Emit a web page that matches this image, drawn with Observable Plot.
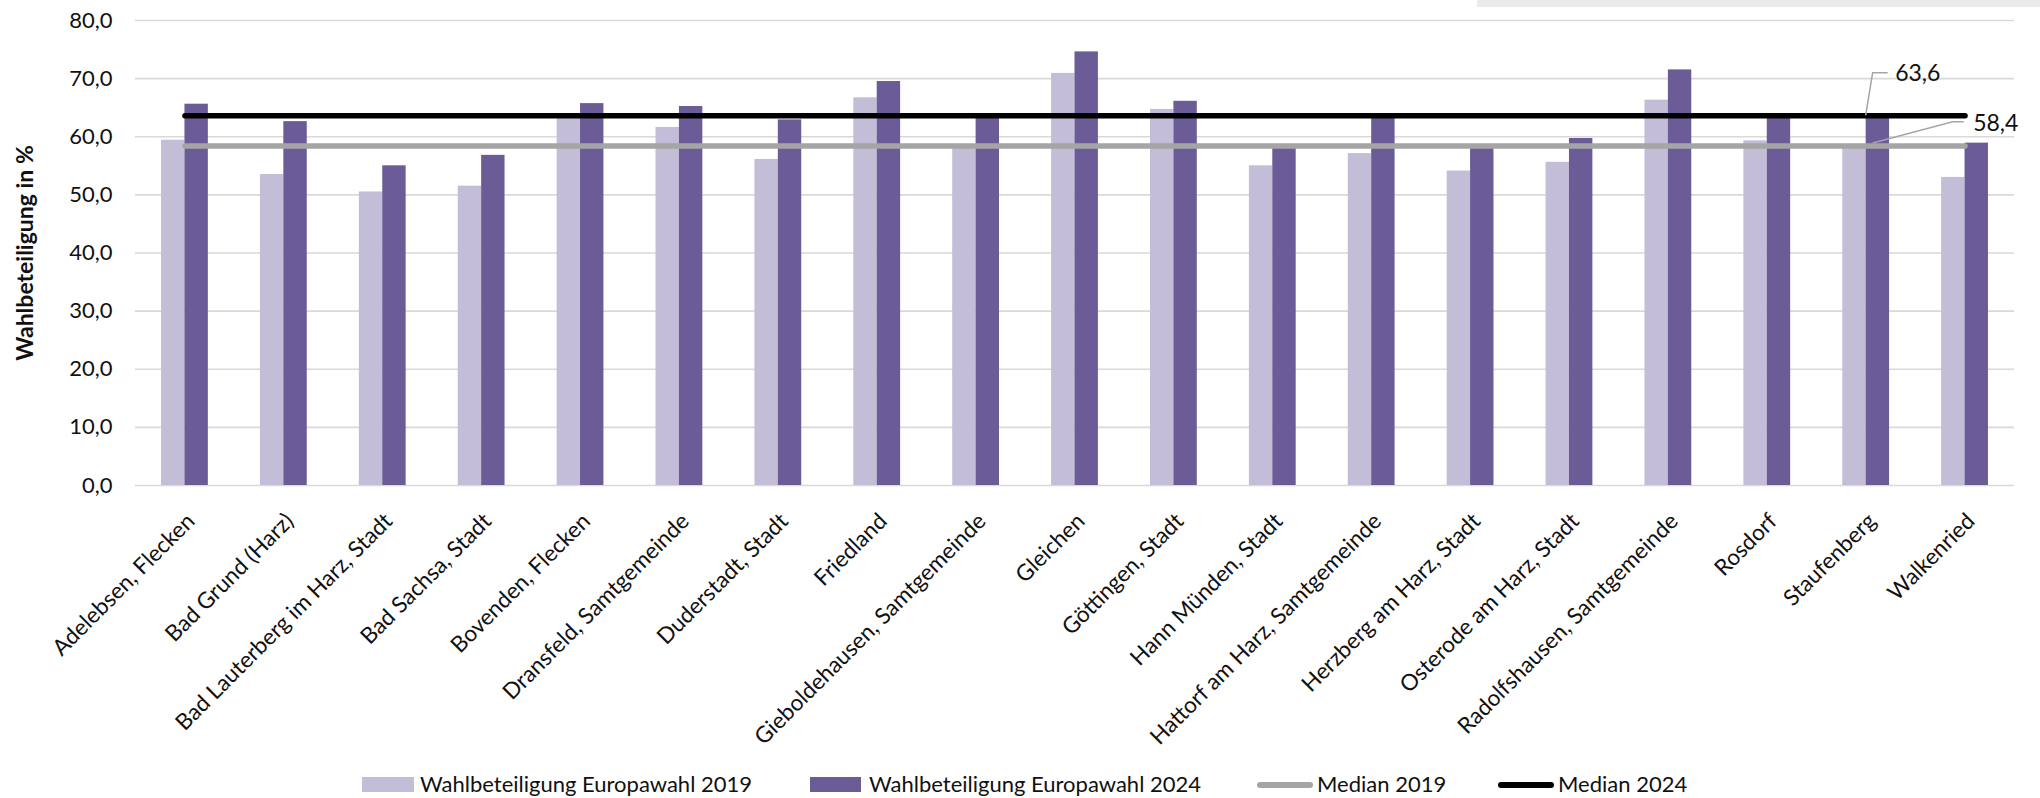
<!DOCTYPE html>
<html>
<head>
<meta charset="utf-8">
<script src="https://cdn.jsdelivr.net/npm/d3@7"></script>
<script src="https://cdn.jsdelivr.net/npm/@observablehq/plot@0.6"></script>
<style>
  html, body { margin: 0; padding: 0; background: #fff; }
  #wrap { position: relative; width: 2040px; height: 798px; overflow: hidden; font-family: Lato, "Noto Sans", sans-serif; color: #111; }
  #chart { position: absolute; left: 0; top: 0; }
  #topbox { position: absolute; left: 1477px; top: 0; width: 563px; height: 7px; background: #ebebeb; }
  .lg { position: absolute; }
  .lgt { position: absolute; top: 770px; line-height: 28px; font-size: 22px; white-space: nowrap; }
</style>
</head>
<body>
<div id="wrap">
  <div id="chart"></div>
  <div id="topbox"></div>
  <div id="legend"></div>
</div>
<script>
// ---- data ----
const categories = [
  "Adelebsen, Flecken", "Bad Grund (Harz)", "Bad Lauterberg im Harz, Stadt", "Bad Sachsa, Stadt",
  "Bovenden, Flecken", "Dransfeld, Samtgemeinde", "Duderstadt, Stadt", "Friedland",
  "Gieboldehausen, Samtgemeinde", "Gleichen", "Göttingen, Stadt", "Hann Münden, Stadt",
  "Hattorf am Harz, Samtgemeinde", "Herzberg am Harz, Stadt", "Osterode am Harz, Stadt",
  "Radolfshausen, Samtgemeinde", "Rosdorf", "Staufenberg", "Walkenried"
];
const turnout2019 = [59.4, 53.5, 50.5, 51.5, 63.7, 61.6, 56.1, 66.7, 58.6, 70.9, 64.7, 55.0, 57.1, 54.1, 55.6, 66.3, 59.3, 58.7, 53.0];
const turnout2024 = [65.6, 62.6, 55.0, 56.8, 65.7, 65.2, 62.9, 69.5, 63.5, 74.6, 66.1, 58.6, 63.8, 58.5, 59.7, 71.5, 63.9, 63.6, 58.9];
const median2019 = 58.4;
const median2024 = 63.6;
const medianLabelCategory = "Staufenberg";
const yTicks = [0, 10, 20, 30, 40, 50, 60, 70, 80];
const yTitle = "Wahlbeteiligung in %";
const seriesNames = ["Wahlbeteiligung Europawahl 2019", "Wahlbeteiligung Europawahl 2024", "Median 2019", "Median 2024"];

// ---- styling ----
const colors = { light: "#c3bdd8", dark: "#6b5c97", med19: "#a5a5a5", med24: "#000000" };
const W = 2040, H = 770;
const mL = 135, mR = 26, mT = 20, mB = H - 485;
const step = (W - mL - mR) / categories.length;
const barW = 23.4;
const fmt = d => d.toFixed(1).replace(".", ",");

const rows2019 = categories.map((c, i) => ({ cat: c, value: turnout2019[i] }));
const rows2024 = categories.map((c, i) => ({ cat: c, value: turnout2024[i] }));
const medRows19 = categories.map(c => ({ cat: c, value: median2019 }));
const medRows24 = categories.map(c => ({ cat: c, value: median2024 }));
const medLabel24 = [{ cat: medianLabelCategory, value: median2024, text: fmt(median2024) }];
const medLabel19 = [{ cat: medianLabelCategory, value: median2019, text: fmt(median2019) }];

// leader lines drawn through the plot's own scales
function leaders(index, scales) {
  const g = d3.create("svg:g").attr("fill", "none").attr("stroke", "#a5a5a5").attr("stroke-width", 1.5);
  const bw = scales.x.bandwidth ? scales.x.bandwidth() : 0;
  const cx = scales.x(medianLabelCategory) + bw / 2;
  const y24 = scales.y(median2024), y19 = scales.y(median2019);
  g.append("path").attr("d", `M${cx},${y24}L${cx + 7},${y24 - 42.6}L${cx + 22},${y24 - 42.6}`);
  g.append("path").attr("d", `M${cx + 7},${y19 - 2.5}L${cx + 87},${y19 - 23.8}L${cx + 98},${y19 - 23.8}`);
  return g.node();
}

const chart = Plot.plot({
  width: W,
  height: H,
  marginLeft: mL,
  marginRight: mR,
  marginTop: mT,
  marginBottom: mB,
  style: { fontFamily: "Lato, 'Noto Sans', sans-serif", fontSize: "22px", color: "#111", background: "#fff", overflow: "visible" },
  x: { type: "band", domain: categories, padding: 0, round: false },
  y: { domain: [0, 80] },
  marks: [
    Plot.gridY(yTicks, { stroke: "#d9d9d9", strokeOpacity: 1, strokeWidth: 1.6 }),
    Plot.axisY(yTicks, { tickSize: 0, tickPadding: 23, tickFormat: fmt, fontSize: 22, label: null }),
    Plot.axisX({ tickSize: 0, tickRotate: -45, tickPadding: 32, dx: 6, fontSize: 22.5, label: null }),
    Plot.text([yTitle], { text: d => d, frameAnchor: "left", textAnchor: "middle", dx: -110, rotate: -90, fontWeight: "bold", fontSize: 23 }),
    Plot.barY(rows2019, { x: "cat", y: "value", fill: colors.light, insetLeft: step / 2 - barW, insetRight: step / 2 }),
    Plot.barY(rows2024, { x: "cat", y: "value", fill: colors.dark, insetLeft: step / 2, insetRight: step / 2 - barW }),
    Plot.lineY(medRows19, { x: "cat", y: "value", stroke: colors.med19, strokeWidth: 5.5, strokeLinecap: "round" }),
    Plot.lineY(medRows24, { x: "cat", y: "value", stroke: colors.med24, strokeWidth: 5.5, strokeLinecap: "round" }),
    leaders,
    Plot.text(medLabel24, { x: "cat", y: "value", text: "text", dx: 29, dy: -42.6, fill: "#111", textAnchor: "start", fontSize: 23 }),
    Plot.text(medLabel19, { x: "cat", y: "value", text: "text", dx: 107, dy: -22.5, fill: "#111", textAnchor: "start", fontSize: 23 })
  ]
});
document.getElementById("chart").appendChild(chart);

// ---- legend (HTML, below the SVG) ----
const legend = document.getElementById("legend");
const legendItems = [
  { name: seriesNames[0], kind: "rect", color: colors.light, x0: 362, w: 52, tx: 420 },
  { name: seriesNames[1], kind: "rect", color: colors.dark, x0: 810, w: 51, tx: 869 },
  { name: seriesNames[2], kind: "line", color: colors.med19, x0: 1257, w: 56, tx: 1317 },
  { name: seriesNames[3], kind: "line", color: colors.med24, x0: 1498, w: 56, tx: 1558 }
];
for (const it of legendItems) {
  const s = document.createElement("div");
  s.className = "lg";
  s.style.left = it.x0 + "px";
  s.style.width = it.w + "px";
  s.style.background = it.color;
  if (it.kind === "rect") { s.style.top = "777px"; s.style.height = "15px"; }
  else { s.style.top = "782px"; s.style.height = "5.5px"; s.style.borderRadius = "3px"; }
  legend.appendChild(s);
  const t = document.createElement("div");
  t.className = "lgt";
  t.style.left = it.tx + "px";
  t.textContent = it.name;
  legend.appendChild(t);
}
</script>
</body>
</html>
